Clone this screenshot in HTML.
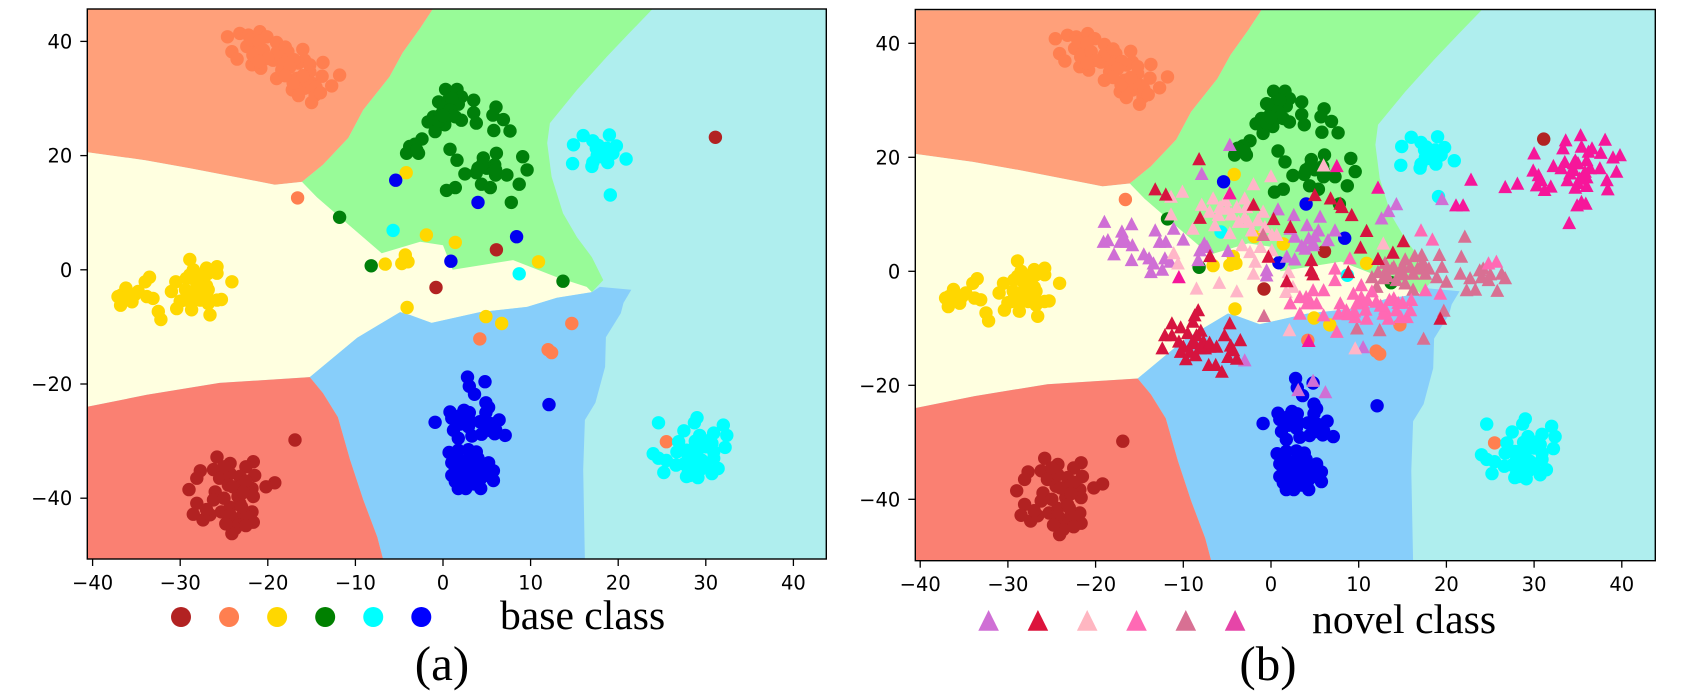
<!DOCTYPE html>
<html lang="en">
<head>
<meta charset="utf-8">
<title>Decision regions of base and novel classes</title>
<style>
html,body{margin:0;padding:0;background:#fff;}
body{width:1701px;height:694px;overflow:hidden;}
svg{display:block;}
.tick-label{font-family:"DejaVu Sans","Liberation Sans",sans-serif;font-size:19.5px;fill:#000;}
.caption{font-family:"Liberation Serif",serif;fill:#000;}
</style>
</head>
<body>
<svg id="chart" xmlns="http://www.w3.org/2000/svg" width="1701" height="694" viewBox="0 0 1701 694">
  <g id="panel-a"></g>
  <g id="panel-b"></g>
  <g id="legend-a"></g>
  <g id="legend-b"></g>
  <text class="caption" x="500" y="629" font-size="41.6">base class</text>
  <text class="caption" x="1312" y="633" font-size="41.7">novel class</text>
  <text class="caption" x="442" y="680" font-size="49" text-anchor="middle">(a)</text>
  <text class="caption" x="1268" y="680" font-size="49" text-anchor="middle">(b)</text>
</svg>
<script>
// ---- tick labels ----
const xTickValues = [-40, -30, -20, -10, 0, 10, 20, 30, 40];
const yTickValues = [40, 20, 0, -20, -40];

// ---- decision region boundaries, data units ----
const regionOrange = [[-40.6,45.8],[-1.1,45.8],[-2.6,42.3],[-4.6,38],[-6.1,33.8],[-9.1,28],[-10.8,23.1],[-13.7,18.4],[-16.1,15.4],[-19.2,14.9],[-23.2,16.1],[-28.9,17.8],[-34,19.2],[-40.6,20.6]];
const regionGreen = [[-1.1,45.8],[24,45.8],[21.3,41.5],[18.7,37.3],[15.3,31.5],[12.2,25.7],[11.9,22.2],[12.4,16.3],[13.7,9.9],[15.3,5.7],[17,2.2],[18.3,-1.8],[17,-3.9],[-7,-3],[-16.1,15.4],[-13.7,18.4],[-10.8,23.1],[-9.1,28],[-6.1,33.8],[-4.6,38],[-2.6,42.3]];
const regionYellow = [[-40.6,20.6],[-34,19.2],[-28.9,17.8],[-23.2,16.1],[-19.2,14.9],[-16.1,15.4],[-14.4,12.7],[-11,8.2],[-7,2.9],[-2.6,4.9],[0,4.3],[1.1,0],[8,1.7],[13,-1.3],[16.4,-3],[17,-3.9],[13,-4.9],[9.6,-6.5],[4.2,-7.4],[-1.3,-9.3],[-3.8,-7.9],[-4.9,-7.4],[-9.8,-11.9],[-15.2,-18.8],[-25.5,-19.8],[-33.8,-21.9],[-40.6,-24]];
const regionBlue = [[-15.2,-18.8],[-9.8,-11.9],[-4.9,-7.4],[-3.8,-7.9],[-1.3,-9.3],[4.2,-7.4],[9.6,-6.5],[13,-4.9],[17,-3.9],[17.9,-3],[21.5,-3.5],[20.6,-5.8],[20.3,-7.6],[18.6,-11.8],[18.5,-17],[17.4,-23.3],[16.2,-26.3],[16,-35],[16.2,-50.9],[-6.8,-50.9],[-7.5,-46.8],[-9.1,-40.3],[-10.6,-33.3],[-12,-25.8],[-13.7,-21.6]];
const regionSalmon = [[-15.2,-18.8],[-25.5,-19.8],[-33.8,-21.9],[-40.6,-24],[-40.6,-50.9],[-6.8,-50.9],[-7.5,-46.8],[-9.1,-40.3],[-10.6,-33.3],[-12,-25.8],[-13.7,-21.6]];

// ---- base classes, [x, y] ----
const baseFirebrick = [[-25.8,-32.8],[-24.3,-33.9],[-21.65,-33.6],[-22.5,-34.5],[-21.5,-36],[-27.7,-35.2],[-28.1,-36.5],[-26.2,-35],[-25.5,-36.5],[-24.3,-35.7],[-23.2,-36.2],[-19.2,-37.3],[-20.2,-38],[-29,-38.5],[-26,-38.9],[-26.2,-40.3],[-24.5,-37.7],[-23.2,-38],[-21.8,-38.3],[-23.4,-39.7],[-21.65,-39.7],[-28.1,-40.9],[-28.5,-42.8],[-27.4,-43.8],[-26.6,-42.9],[-25.3,-42.4],[-24.3,-41.6],[-23.2,-40.9],[-21.8,-42.4],[-23.2,-43.5],[-21.65,-44.2],[-24.1,-43.8],[-23.7,-45.3],[-24.1,-46.2],[-22.4,-43.2],[-24.3,-42.9],[-24,-38],[-25,-40],[-23,-41.5],[-25,-34.5],[-22.5,-37],[-27,-42],[-24.8,-44.5],[-22.8,-39],[-22.5,-44.8],[31.1,23.2],[6.1,3.5],[-0.8,-3.1],[-16.9,-29.8]];
const baseCoral = [[-24.6,40.8],[-23.2,41.4],[-22.2,41.1],[-20.9,41.7],[-20.1,40.8],[-19,39.8],[-21.5,39.7],[-22.4,39.1],[-24.1,38.2],[-23.5,36.9],[-21.8,35.9],[-20.8,35.3],[-21.7,37.6],[-19.4,36.7],[-17.7,38.2],[-18.2,36.4],[-18.4,35],[-19,33.5],[-16,38.6],[-15.8,36.7],[-16.5,36.2],[-15.2,35.9],[-13.7,36.3],[-15.2,34.7],[-16.7,33.5],[-11.8,34.1],[-13.8,33.9],[-15,32.7],[-17.2,31.5],[-16.3,31.8],[-12.7,32.2],[-14.6,30.6],[-15,29.3],[-15.8,31.8],[-17.1,32.7],[-22,40.3],[-21,40],[-20.5,38.5],[-19,38],[-20,37],[-18,39],[-17,36.8],[-17.5,35.5],[-15.5,33],[-16,34],[-14.5,32],[-16.5,30.5],[-14,31],[-18,34],[-21,36.5],[-16.6,12.6],[14.7,-9.4],[4.2,-12.1],[12,-14],[12.4,-14.5],[25.5,-30.1]];
const baseGold = [[-33.5,-1.3],[-34,-2.1],[-36.2,-3.2],[-36.7,-4.4],[-37.1,-4.7],[-36.8,-6.2],[-35.5,-5.6],[-34.8,-3.8],[-33.8,-4.7],[-33.1,-5],[-30.5,-2.1],[-31,-3.8],[-29.3,-1.5],[-28.3,-1.8],[-27.4,-1.8],[-26.8,-0.6],[-25.8,-0.6],[-26.8,-3.5],[-24.1,-2.1],[-29.6,-5.3],[-30.4,-6.8],[-28.7,-5.6],[-27.7,-5.3],[-26.8,-5.9],[-25.3,-5.2],[-25.8,-5.3],[-28.7,-7],[-26.6,-7.9],[-32.5,-7.3],[-32.2,-8.7],[-29.4,-3.5],[-28.1,-3.2],[-36,-4.5],[-28,-3],[-27,-2.8],[-28,-4.5],[-29,-4.2],[-27,-4.4],[-28.5,0],[-27,-0.8],[-35.2,-4.4],[-30,-5.5],[-28.9,1.8],[-27,0.3],[-25.8,0.55],[-28.9,-0.9],[-27.9,-0.9],[-4.2,17],[-6.6,1],[-4.3,2.6],[-4.7,1.1],[-4,1.4],[-1.9,6.1],[1.4,4.8],[10.9,1.4],[-4.1,-6.6],[4.9,-8.2],[6.7,-9.4]];
const baseGreen = [[0.3,31.6],[1.6,31.6],[2.1,30.3],[-0.5,29.4],[0.6,29.7],[3.5,29.7],[1.75,29],[0.04,28.3],[6.05,28.5],[5.7,27.1],[3.5,27.5],[-1.1,26.8],[-1.7,25.9],[-0.3,27.1],[0.2,25.4],[1.4,26.8],[2.1,26.2],[3.8,25.7],[6.9,26.3],[-0.9,24.2],[5.8,24.4],[7.65,24.3],[-2.4,22.9],[-3.2,22],[-3.8,21.6],[-4.15,20.4],[-2.8,20.4],[0.8,21.1],[1.6,19.2],[4.6,19.6],[6.1,20.4],[9.1,19.8],[9.6,17.5],[5.9,18.4],[5,17.8],[3.8,17],[2.5,16.8],[6,16.6],[7.3,16.6],[4.4,15],[5.4,14.4],[8.7,15],[1.4,14.4],[0.4,13.9],[7.8,11.8],[1,30],[0.8,28],[-0.5,26],[1,27],[0,27],[4.5,18.5],[6,17.5],[4,17.8],[-3,21],[-11.8,9.2],[-8.2,0.7],[13.7,-2]];
const baseCyan = [[14.9,21.9],[16,23.5],[17.1,22.6],[19,23.6],[17.5,21.3],[18.7,21.3],[19.8,21.7],[18.3,20.1],[19.4,20.4],[20.9,19.4],[14.8,18.6],[17.1,18.8],[17,18.1],[18.8,18.8],[17.9,19.8],[17.7,21.8],[18.2,21],[17.6,20],[18.9,19.9],[24.6,-26.8],[29,-25.9],[28.7,-26.8],[27.5,-28.2],[32,-27.2],[32.4,-29],[29.3,-29],[30.9,-28.6],[26.9,-30.1],[30.7,-30.4],[32.2,-31.1],[24,-32.2],[24.6,-33],[25.5,-33.4],[26.7,-31.9],[28.6,-31.3],[26.6,-34.2],[30.9,-31.9],[28,-33],[29.5,-33.3],[30.9,-33],[31.4,-34.8],[25.2,-35.5],[30.7,-35.7],[27.8,-36.2],[29.1,-36.4],[28.2,-34.8],[29.3,-35.1],[27.8,-31.6],[28,-32],[29,-32.5],[29,-34],[28,-35.5],[30,-34.2],[27.5,-34],[30.5,-29.8],[30,-31],[28.8,-30],[28.2,-36],[-5.7,6.9],[8.7,-0.7],[19.1,13.1]];
const baseBlue = [[2.8,-18.8],[4.8,-19.6],[3,-20.4],[3.6,-21.8],[4.9,-23.3],[5.2,-24.1],[4.9,-25],[0.8,-24.9],[2.4,-24.6],[1,-26],[-0.9,-26.7],[1.6,-26.6],[2.9,-26],[4.2,-26.6],[6.4,-26.3],[5.4,-26.9],[1.2,-28.1],[2.9,-27.5],[1.75,-29.5],[3.3,-29.1],[4.4,-28.8],[5.9,-28.7],[7.1,-29],[5.3,-28.1],[0.7,-32],[1.75,-31.6],[2.9,-31.5],[3.8,-31.9],[1,-33.8],[1.9,-33.3],[2.9,-33.6],[5.2,-33.8],[1.4,-35.1],[2.5,-35.1],[3.8,-34.5],[5.75,-35.2],[4.6,-35.7],[1.4,-37.1],[2.9,-36.5],[4.2,-36.8],[5.75,-36.9],[1.75,-38.3],[2.6,-38.3],[4.3,-38.3],[3.1,-34.8],[2,-25.5],[3,-25],[2,-27],[1.5,-32.8],[2,-34.5],[3,-33],[4,-33],[4.5,-34.3],[2,-36],[3,-36],[3.5,-37.5],[5,-36],[1,-36],[3.4,-35.5],[2.5,-37.8],[6,-28],[4.8,-27.5],[-5.4,15.7],[4,11.8],[8.4,5.8],[0.9,1.5],[12.1,-23.6]];

// ---- novel classes, [x, y] ----
const novelOrchid = [[-4.7,22.2],[-7.9,17.1],[-19,8.7],[-15.9,8.3],[-19.1,5.2],[-18.6,5.5],[-17,7],[-17.2,5.2],[-16.5,5.2],[-15.8,4.6],[-13.2,7.2],[-11.1,7.5],[-10,5.6],[-12.7,5.2],[-12,5.2],[-17.9,3],[-15.9,2],[-14.5,3],[-13.9,2.3],[-13.4,1.4],[-13.7,-0.1],[-12.4,0.3],[-12.1,2.3],[-11.5,1.7],[-7.6,4.9],[-8.1,3.7],[-7.3,4.3],[-8.3,2],[-4.9,3.6],[0.8,10.9],[2.6,9.9],[5.6,9.6],[4.1,8.1],[2.2,7.5],[2.7,6.1],[5.4,7.2],[7.3,7.2],[6.5,5.5],[4.3,5.8],[4.8,4.6],[3.9,4],[1.8,2.6],[2.7,2.1],[-0.5,0.2],[-0.5,-0.7],[14.3,11.8],[13.4,10.6],[12.6,9.3],[10.5,-13.3],[4.8,5],[3.5,4.5],[-16.8,5.8],[5,6.2],[19.5,12.7],[4.8,-19.2],[3.1,-20.8],[6.2,-21.2],[-3,-15.6]];
const novelCrimson = [[-8.2,19.7],[-13.2,14.4],[-12,13.5],[-2,11.7],[-8.1,9.4],[0.3,9.2],[5,13.4],[6.8,12.8],[8.1,11.3],[9.2,9.9],[10.9,7.1],[10.2,4.2],[15.1,5.3],[13.9,3.3],[12.2,2.2],[8.8,-0.1],[4.6,2],[4.6,0.2],[4.8,-0.5],[-0.3,2.6],[-6.95,2.7],[1.8,-1.7],[2.2,7.8],[7.9,11.9],[19.3,-8.3],[-8.3,-6.8],[-8.7,-7.7],[-8.9,-8.8],[-11.3,-9.1],[-10.3,-9.8],[-12.1,-11.2],[-11.3,-11.2],[-9.5,-10.8],[-8,-10.4],[-4.7,-9.1],[-5.3,-11.2],[-3.5,-12.05],[-12.4,-13.5],[-10.5,-12.3],[-10,-13.2],[-10.3,-14.1],[-8.5,-11.2],[-8.7,-12.6],[-7.7,-12.3],[-7,-13.2],[-6.2,-13.2],[-8.1,-13.5],[-7.5,-13.5],[-9.2,-14.1],[-8.6,-14.7],[-9.7,-15.4],[-4.3,-13.8],[-4.9,-15],[-3.9,-15.3],[-7.1,-16.4],[-6.3,-16.4],[-5.6,-17.6],[-9,-12.5],[-8,-13],[-4.6,-13],[-7,-12.5]];
const novelLightPink = [[0,16.7],[-2,15.3],[6,18.6],[-10.1,14],[-11.4,13.1],[-7.9,11.7],[-6.6,12.8],[-5.8,11.3],[-6,9.9],[-3,12.8],[-3.9,11.3],[-2.8,11.3],[-0.9,10.5],[-3.7,8.7],[-2.6,8.7],[-0.7,7.8],[-8.9,7.5],[-6.4,8.1],[-4.7,6.7],[-11.1,3.2],[-10.6,1.4],[-11.4,10],[-3.3,4.6],[-2.4,3.4],[-1.8,1.7],[-2,-0.4],[-1.2,4.3],[0.1,6.4],[0.65,6.4],[0.1,3.7],[-8.5,-3],[-5.9,-2],[-3.9,-3.5],[2,-0.1],[2.5,-2.7],[1.7,-3.6],[2.1,-10.3],[9.6,-13.5],[12.8,4.9],[-2.2,7.2],[-5,11],[-4.5,10],[-3,9.5],[-7,10.5],[-5.2,12.5],[-1.5,9]];
const novelHotPink = [[17.1,7.2],[18.4,5.6],[9,2.3],[7.3,0.5],[7.3,-1.5],[4.8,-3.3],[6,-3.3],[2.2,-5.6],[3.3,-4.5],[4.5,-5.3],[5.2,-5.6],[3.3,-7.4],[6,-7.7],[7.5,-10.6],[7.9,-5.6],[7.7,-7.4],[9.4,-3.9],[10.3,-2.4],[10.5,-5.6],[9.6,-8],[10.9,-8.3],[12,-5.3],[13,-6.5],[13.4,-8.3],[14,-4.7],[14.3,-6.8],[15.5,-8],[16,-5],[15.9,-6.8],[17.6,-3.3],[19.3,-3.9],[12.8,-7.4],[8.6,-6.8],[10.3,-4.5],[9.8,-5.6],[4.1,-5.6],[24.8,1.4],[25.7,1.7],[13.5,-5],[14.5,-5.5],[12.5,-6],[10.8,-6.7],[9.5,-7],[11,-5],[15,-5.5],[8.8,-7.5],[14.8,-8],[4,-4.5],[11.5,-3.5]];
const novelPaleViolet = [[22.1,6.1],[21.7,2.6],[19.2,2.9],[17.2,2.9],[16.4,2.7],[15.3,2.1],[14,0.8],[13.2,0.5],[12.2,-0.1],[11.5,-1],[12.05,-2.7],[12.8,-1.2],[15.1,-0.4],[16.2,-0.4],[17.4,1.4],[17.6,-0.4],[16.2,-3.2],[15.3,-2.1],[18.9,-1],[19.5,0.8],[20,-1.8],[21.6,-0.4],[22.7,-1.2],[22.3,-3.3],[23.3,-3.2],[24.2,0.5],[24,-1],[24.8,-1.5],[26.3,-0.4],[26.7,-1.2],[25.8,-3.4],[9.8,-10],[12.4,-10.3],[17.4,-11.8],[19.7,-6.9],[-0.8,-7.8],[-0.9,6.4],[14.3,-1.5],[13.8,0.5],[15.9,0.8],[17,0.8],[13.3,-0.8],[14.6,-0.5],[16.7,0.5],[15,1],[18,0.5],[13,1.5],[23.8,0.2],[25,-0.5]];
const novelDeepPink = [[35.3,23.9],[33.6,23],[38.1,23.1],[33.3,21.6],[35.4,21.9],[36.6,21.6],[36.2,21],[37.6,20.8],[39.8,20.4],[39,20],[30,20.7],[33.5,19.2],[34.7,19.5],[36,19.5],[32.2,18.5],[33.1,18.1],[34.5,17.8],[36.4,18.1],[37.5,18.1],[39.4,17.5],[29.9,17.7],[30.5,16.9],[34.1,17.2],[36,16.5],[38.3,16],[34.7,14.7],[30.3,15.1],[31.9,14.9],[31.2,14.3],[38.4,14.4],[28.1,15.4],[26.7,14.8],[22.8,16.1],[21.1,11.6],[21.9,11.6],[34.9,11.6],[35.9,11.9],[35.4,12.2],[34,8.5],[12.2,14.7],[35.2,16.3],[35,19],[35.8,17.5],[34.5,19],[36,15],[30.8,16],[35,15.5],[33.8,16],[7.5,18.5],[-4.7,13.7],[-10.5,-1],[4.3,-12.2]];

// ---- legend colours ----
const baseLegendColors = ['#B22222', '#FF7F50', '#FFD700', '#008000', '#00FFFF', '#0000FF'];
const novelLegendColors = ['#CF6FD5', '#DC143C', '#FFB6C1', '#FF69B4', '#D87093', '#E645A8'];

const NS = 'http://www.w3.org/2000/svg';

function make(tag, attrs, parent) {
  const el = document.createElementNS(NS, tag);
  for (const k in attrs) el.setAttribute(k, attrs[k]);
  parent.appendChild(el);
  return el;
}

function drawRegion(parent, pts, color, name, sx, sy) {
  const el = make('polygon', {
    points: pts.map(function (p) { return sx(p[0]).toFixed(1) + ',' + sy(p[1]).toFixed(1); }).join(' '),
    fill: color
  }, parent);
  
  
}

function drawCircles(parent, pts, color, name, sx, sy) {
  pts.forEach(function (p) {
    const el = make('circle', { cx: sx(p[0]).toFixed(1), cy: sy(p[1]).toFixed(1), r: 6.7, fill: color }, parent);
    
    
  });
}

function drawTriangles(parent, pts, color, name, sx, sy) {
  pts.forEach(function (p) {
    const x = sx(p[0]), y = sy(p[1]);
    const el = make('polygon', {
      points: x.toFixed(1) + ',' + (y - 7).toFixed(1) + ' ' + (x - 6.9).toFixed(1) + ',' + (y + 6.2).toFixed(1) + ' ' + (x + 6.9).toFixed(1) + ',' + (y + 6.2).toFixed(1),
      fill: color
    }, parent);
    
    
  });
}

function drawPanel(parent, box, withNovel, id) {
  const sx = function (v) { return box.x0 + box.kx * v; };
  const sy = function (v) { return box.y0 - box.ky * v; };
  const w = box.right - box.left, h = box.bottom - box.top;

  const defs = make('defs', {}, parent);
  const clip = make('clipPath', { id: id + '-clip' }, defs);
  make('rect', { x: box.left, y: box.top, width: w, height: h }, clip);

  const plot = make('g', { 'clip-path': 'url(#' + id + '-clip)' }, parent);
  
  

  const bg = make('rect', { x: box.left, y: box.top, width: w, height: h, fill: '#AFEEEE' }, plot);
  
  

  drawRegion(plot, regionOrange, '#FFA07A', 'region-lightsalmon', sx, sy);
  drawRegion(plot, regionGreen, '#98FB98', 'region-palegreen', sx, sy);
  drawRegion(plot, regionYellow, '#FFFFE0', 'region-lightyellow', sx, sy);
  drawRegion(plot, regionBlue, '#87CEFA', 'region-lightskyblue', sx, sy);
  drawRegion(plot, regionSalmon, '#FA8072', 'region-salmon', sx, sy);

  drawCircles(plot, baseFirebrick, '#B22222', 'base-point-firebrick', sx, sy);
  drawCircles(plot, baseCoral, '#FF7F50', 'base-point-coral', sx, sy);
  drawCircles(plot, baseGold, '#FFD700', 'base-point-gold', sx, sy);
  drawCircles(plot, baseGreen, '#007F0A', 'base-point-green', sx, sy);
  drawCircles(plot, baseCyan, '#00FFFF', 'base-point-cyan', sx, sy);
  drawCircles(plot, baseBlue, '#0000F0', 'base-point-blue', sx, sy);

  if (withNovel) {
    drawTriangles(plot, novelOrchid, '#CF6FD5', 'novel-point-orchid', sx, sy);
    drawTriangles(plot, novelLightPink, '#FFB6C8', 'novel-point-lightpink', sx, sy);
    drawTriangles(plot, novelPaleViolet, '#D87093', 'novel-point-palevioletred', sx, sy);
    drawTriangles(plot, novelHotPink, '#FF69B4', 'novel-point-hotpink', sx, sy);
    drawTriangles(plot, novelCrimson, '#D6143F', 'novel-point-crimson', sx, sy);
    drawTriangles(plot, novelDeepPink, '#F6169A', 'novel-point-deeppink', sx, sy);
  }

  const frame = make('rect', { x: box.left, y: box.top, width: w, height: h, fill: 'none', stroke: '#000', 'stroke-width': 1.4 }, parent);
  
  

  xTickValues.forEach(function (v) {
    const x = sx(v);
    const t = make('line', { x1: x, x2: x, y1: box.bottom, y2: box.bottom + 7, stroke: '#000', 'stroke-width': 1.3 }, parent);
    
    
    const l = make('text', { x: x, y: box.bottom + 30.5, 'text-anchor': 'middle', class: 'tick-label' }, parent);
    
    
    l.textContent = String(v).replace('-', '\u2212');
  });

  yTickValues.forEach(function (v) {
    const y = sy(v);
    const t = make('line', { x1: box.left - 7, x2: box.left, y1: y, y2: y, stroke: '#000', 'stroke-width': 1.3 }, parent);
    
    
    const l = make('text', { x: box.left - 15, y: y + 7, 'text-anchor': 'end', class: 'tick-label' }, parent);
    
    
    l.textContent = String(v).replace('-', '\u2212');
  });
}

drawPanel(document.getElementById('panel-a'),
  { left: 87.3, right: 826.3, top: 9, bottom: 559, x0: 443, kx: 8.76, y0: 269.8, ky: 5.71 }, false, 'panel-a');
drawPanel(document.getElementById('panel-b'),
  { left: 915.3, right: 1655.3, top: 9.5, bottom: 560.7, x0: 1271, kx: 8.77, y0: 271.3, ky: 5.7 }, true, 'panel-b');

const legendA = document.getElementById('legend-a');
baseLegendColors.forEach(function (c, i) {
  const el = make('circle', { cx: 181 + i * 48.06, cy: 617, r: 10, fill: c }, legendA);
  
  
});

const legendB = document.getElementById('legend-b');
novelLegendColors.forEach(function (c, i) {
  const x = 988.6 + i * 49.3;
  const el = make('polygon', { points: x + ',610 ' + (x - 10.3) + ',630.7 ' + (x + 10.3) + ',630.7', fill: c }, legendB);
  
  
});
</script>
</body>
</html>
